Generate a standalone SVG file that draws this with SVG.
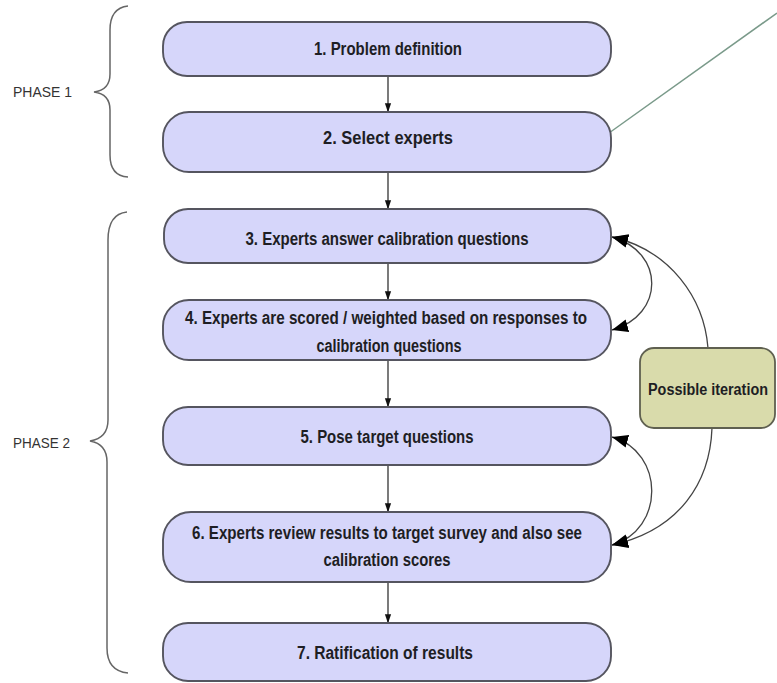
<svg xmlns="http://www.w3.org/2000/svg" width="777" height="683" viewBox="0 0 777 683">
<style>
.box{fill:#d6d6fa;stroke:#55555f;stroke-width:1.9}
.it{fill:#d9dbab;stroke:#5f6050;stroke-width:1.8}
.t{font-family:"Liberation Sans Narrow","Liberation Sans",Arial,sans-serif;font-weight:bold;font-size:18px;fill:#1e1e24;text-anchor:middle}
.ph{font-family:"Liberation Sans Narrow","Liberation Sans",Arial,sans-serif;font-size:15px;fill:#333;text-anchor:start}
.down{stroke:#222;stroke-width:1.2;fill:none;marker-end:url(#ah)}
.curve{stroke:#444;stroke-width:1.3;fill:none}
.brace{stroke:#666;stroke-width:1.5;fill:none}
</style>
<defs>
<marker id="ah" markerWidth="9" markerHeight="13" refX="12.5" refY="4.5" orient="auto" markerUnits="userSpaceOnUse" viewBox="0 0 13 9">
<path d="M0,0 L13,4.5 L0,9 Z" fill="#111"/>
</marker>
<marker id="big" markerWidth="16" markerHeight="13" refX="16" refY="6.5" orient="auto" markerUnits="userSpaceOnUse" viewBox="0 0 16 13">
<path d="M0,0 L16,6.5 L0,13 Z" fill="#000"/>
</marker>
<marker id="bigs" markerWidth="16" markerHeight="13" refX="16" refY="6.5" orient="auto-start-reverse" markerUnits="userSpaceOnUse" viewBox="0 0 16 13">
<path d="M0,0 L16,6.5 L0,13 Z" fill="#000"/>
</marker>
</defs>
<rect width="777" height="683" fill="#ffffff"/>
<g id="braces">
<path class="brace" d="M128 6 Q110 8 110 30 L110 74 Q110 90 94 92 Q110 94 110 110 L110 155 Q110 176 128 177"/>
<path class="brace" d="M127 212 Q108 214 108 240 L108 420 Q108 438 90 441 Q107 444 107 462 L107 648 Q107 671 128 673"/>
<text id="phase1" class="ph" x="13" y="97" textLength="59" lengthAdjust="spacingAndGlyphs">PHASE 1</text>
<text id="phase2" class="ph" x="13" y="448" textLength="57" lengthAdjust="spacingAndGlyphs">PHASE 2</text>
</g>
<g id="connectors">
<line class="down" x1="388" y1="76" x2="388" y2="112"/>
<line class="down" x1="388" y1="172" x2="388" y2="209"/>
<line class="down" x1="388" y1="263" x2="388" y2="300"/>
<line class="down" x1="388" y1="360" x2="388" y2="407"/>
<line class="down" x1="388" y1="465" x2="388" y2="512"/>
<line class="down" x1="388" y1="582" x2="388" y2="623"/>
<path class="curve" d="M612 237 C665 252 665 315 612 330" marker-start="url(#bigs)" marker-end="url(#big)"/>
<path class="curve" d="M612 437 C665 452 665 530 612 545" marker-start="url(#bigs)" marker-end="url(#big)"/>
<path class="curve" d="M708 348 C704 298 670 250 612 237" marker-end="url(#big)"/>
<path class="curve" d="M712 428 C710 482 680 530 612 545" marker-end="url(#big)"/>
<line x1="609" y1="133" x2="777" y2="13" stroke="#7a9a8a" stroke-width="1.5"/>
</g>
<g id="node1">
<rect class="box" x="163" y="22" width="448" height="54" rx="24"/>
<text class="t" x="388" y="55" textLength="148" lengthAdjust="spacingAndGlyphs">1. Problem definition</text>
</g>
<g id="node2">
<rect class="box" x="163" y="112" width="448" height="60" rx="26"/>
<text class="t" x="388" y="144" textLength="130" lengthAdjust="spacingAndGlyphs">2. Select experts</text>
</g>
<g id="node3">
<rect class="box" x="164" y="209" width="447" height="54" rx="24"/>
<text class="t" x="387" y="245" textLength="283" lengthAdjust="spacingAndGlyphs">3. Experts answer calibration questions</text>
</g>
<g id="node4">
<rect class="box" x="163" y="300" width="448" height="60" rx="26"/>
<text class="t" x="386" y="324" textLength="402" lengthAdjust="spacingAndGlyphs">4. Experts are scored / weighted based on responses to</text>
<text class="t" x="389" y="352" textLength="145" lengthAdjust="spacingAndGlyphs">calibration questions</text>
</g>
<g id="node5">
<rect class="box" x="163" y="407" width="448" height="58" rx="25"/>
<text class="t" x="387" y="443" textLength="173" lengthAdjust="spacingAndGlyphs">5. Pose target questions</text>
</g>
<g id="node6">
<rect class="box" x="163" y="512" width="448" height="70" rx="28"/>
<text class="t" x="387" y="539" textLength="390" lengthAdjust="spacingAndGlyphs">6. Experts review results to target survey and also see</text>
<text class="t" x="387" y="566" textLength="127" lengthAdjust="spacingAndGlyphs">calibration scores</text>
</g>
<g id="node7">
<rect class="box" x="163" y="623" width="448" height="58" rx="25"/>
<text class="t" x="385" y="659" textLength="176" lengthAdjust="spacingAndGlyphs">7. Ratification of results</text>
</g>
<g id="iteration">
<rect class="it" x="640" y="348" width="135" height="80" rx="14"/>
<text class="t" x="708" y="395" style="font-size:16px" textLength="120" lengthAdjust="spacingAndGlyphs">Possible iteration</text>
</g>
</svg>
